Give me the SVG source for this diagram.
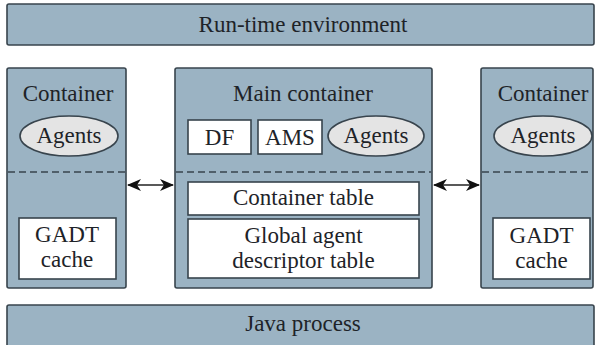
<svg xmlns="http://www.w3.org/2000/svg" width="595" height="345" viewBox="0 0 595 345">
  <style>
    .panel { fill: #9bb3c3; stroke: #38444d; stroke-width: 1.6; }
    .box { fill: #ffffff; stroke: #38444d; stroke-width: 1.6; }
    .agent { fill: #e4e4e4; stroke: #38444d; stroke-width: 1.6; }
    .sep { stroke: #38444d; stroke-width: 1.5; stroke-dasharray: 7 4; fill: none; }
    .lbl { font-family: "Liberation Serif", "Times New Roman", serif; font-size: 23px; fill: #1e2328; text-anchor: middle; }
    .link { stroke: #222; stroke-width: 1.3; fill: none; }
  </style>
  <defs>
    <marker id="head" viewBox="0 0 14 12" refX="13" refY="6" markerWidth="14" markerHeight="12" markerUnits="userSpaceOnUse" orient="auto-start-reverse">
      <path d="M0,0 L14,6 L0,12 L4,6 Z" fill="#111"/>
    </marker>
  </defs>
  <rect width="595" height="345" fill="#ffffff"/>

  <g id="runtime">
    <rect class="panel" x="7" y="4" width="587" height="41" rx="2"/>
    <text class="lbl" x="303" y="32">Run-time environment</text>
  </g>

  <g id="container-left">
    <rect class="panel" x="7" y="68" width="119" height="220" rx="2"/>
    <text class="lbl" x="68" y="101">Container</text>
    <ellipse class="agent" cx="69" cy="136" rx="49" ry="20"/>
    <text class="lbl" x="69" y="143">Agents</text>
    <line class="sep" x1="8" y1="172" x2="125" y2="172"/>
    <rect class="box" x="19" y="218" width="97" height="61"/>
    <text class="lbl" x="67" y="242">GADT</text>
    <text class="lbl" x="67" y="267">cache</text>
  </g>

  <g id="main-container">
    <rect class="panel" x="175" y="68" width="257" height="220" rx="2"/>
    <text class="lbl" x="303" y="101">Main container</text>
    <rect class="box" x="188" y="120" width="63" height="34"/>
    <text class="lbl" x="219.5" y="145">DF</text>
    <rect class="box" x="258" y="120" width="64" height="34"/>
    <text class="lbl" x="290" y="145">AMS</text>
    <ellipse class="agent" cx="376" cy="136" rx="48" ry="20"/>
    <text class="lbl" x="376" y="143">Agents</text>
    <line class="sep" x1="176" y1="172" x2="431" y2="172"/>
    <rect class="box" x="188" y="182" width="231" height="33"/>
    <text class="lbl" x="303.5" y="205">Container table</text>
    <rect class="box" x="188" y="219" width="231" height="59"/>
    <text class="lbl" x="303.5" y="243">Global agent</text>
    <text class="lbl" x="303.5" y="268">descriptor table</text>
  </g>

  <g id="container-right">
    <rect class="panel" x="481" y="68" width="112" height="220" rx="2"/>
    <text class="lbl" x="543" y="101">Container</text>
    <ellipse class="agent" cx="543" cy="136" rx="49" ry="20"/>
    <text class="lbl" x="543" y="143">Agents</text>
    <line class="sep" x1="482" y1="172" x2="592" y2="172"/>
    <rect class="box" x="493" y="218" width="97" height="61"/>
    <text class="lbl" x="541.5" y="243">GADT</text>
    <text class="lbl" x="541.5" y="268">cache</text>
  </g>

  <g id="java-process">
    <rect class="panel" x="7" y="305" width="587" height="44" rx="2"/>
    <text class="lbl" x="303" y="331">Java process</text>
  </g>

  <g id="connectors">
    <line class="link" x1="128" y1="185" x2="173" y2="185" marker-start="url(#head)" marker-end="url(#head)"/>
    <line class="link" x1="434" y1="185" x2="479" y2="185" marker-start="url(#head)" marker-end="url(#head)"/>
  </g>
</svg>
